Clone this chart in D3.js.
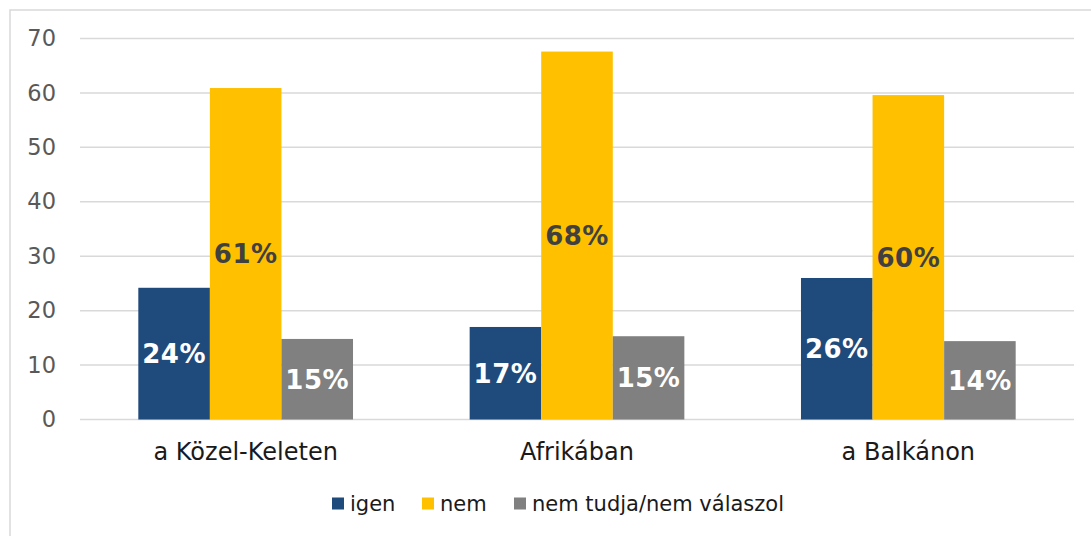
<!DOCTYPE html>
<html>
<head>
<meta charset="utf-8">
<script src="https://cdn.jsdelivr.net/npm/d3@7"></script>
<style>
  body { margin: 0; background: #fff; }
  text { font-family: "DejaVu Sans", Verdana, sans-serif; }
</style>
</head>
<body>
<div id="chart-area"></div>
<script>
// data
var categories = ["a Közel-Keleten", "Afrikában", "a Balkánon"];
var seriesNames = ["igen", "nem", "nem tudja/nem válaszol"];
var igen = [24.2, 17.0, 26.0];
var nem = [60.9, 67.6, 59.6];
var nemTudja = [14.8, 15.3, 14.4];
var yTicks = [0, 10, 20, 30, 40, 50, 60, 70];

var colors = ["#1F4A7C", "#FFC000", "#808080"];
var labelColors = ["#ffffff", "#404040", "#ffffff"];

var W = 1091, H = 536;
var margin = {left: 80, top: 38.5, right: 17, bottom: 116.5};
var width = W - margin.left - margin.right,
    height = H - margin.top - margin.bottom;

var svg = d3.select("#chart-area")
    .append("svg")
        .attr("width", W)
        .attr("height", H);

// chart frame (only top and left edges are visible in the crop)
svg.append("path")
    .attr("d", "M10," + H + "V10H" + W)
    .attr("fill", "none")
    .attr("stroke", "#d9d9d9")
    .attr("stroke-width", 1.5);

var g = svg.append("g")
    .attr("transform", "translate(" + margin.left + ", " + margin.top + ")");

// one equal slot per category
var x0 = d3.scaleBand()
    .domain(categories)
    .range([0, width]);
var step = x0.step();
var groupW = step * 0.648;

var x1 = d3.scaleBand()
    .domain(d3.range(seriesNames.length))
    .range([(step - groupW) / 2, (step + groupW) / 2]);

var y = d3.scaleLinear()
    .domain([0, 70])
    .range([height, 0]);

// gridlines
g.append("g")
    .selectAll("line")
    .data(yTicks)
    .enter()
    .append("line")
        .attr("x1", 0)
        .attr("x2", width)
        .attr("y1", d => y(d))
        .attr("y2", d => y(d))
        .attr("stroke", "#d9d9d9")
        .attr("stroke-width", 1.5);

// y axis labels
var yAxis = d3.axisLeft(y)
    .tickValues(yTicks)
    .tickSize(0)
    .tickPadding(24);
var yAxisGroup = g.append("g").call(yAxis);
yAxisGroup.select(".domain").remove();
yAxisGroup.selectAll("text")
    .attr("font-size", 22.5)
    .attr("font-family", "DejaVu Sans, sans-serif")
    .attr("fill", "#595959");

// x axis labels
var xAxis = d3.axisBottom(x0)
    .tickSize(0)
    .tickPadding(23);
var xAxisGroup = g.append("g")
    .attr("transform", "translate(0, " + height + ")")
    .call(xAxis);
xAxisGroup.select(".domain").remove();
xAxisGroup.selectAll("text")
    .attr("font-size", 24)
    .attr("font-family", "DejaVu Sans, sans-serif")
    .attr("fill", "#1a1a1a");

var rows = categories.map((c, i) => ({
    cat: c,
    vals: [igen[i], nem[i], nemTudja[i]]
}));

var groups = g.selectAll(".grp")
    .data(rows)
    .enter()
    .append("g")
        .attr("class", "grp")
        .attr("transform", d => "translate(" + x0(d.cat) + ",0)");

groups.selectAll("rect")
    .data(d => d.vals)
    .enter()
    .append("rect")
        .attr("x", (d, i) => x1(i))
        .attr("y", d => y(d))
        .attr("width", x1.bandwidth())
        .attr("height", d => height - y(d))
        .attr("fill", (d, i) => colors[i]);

groups.selectAll(".lbl")
    .data(d => d.vals)
    .enter()
    .append("text")
        .attr("class", "lbl")
        .attr("x", (d, i) => x1(i) + x1.bandwidth() / 2)
        .attr("y", d => (y(d) + height) / 2)
        .attr("dy", "0.36em")
        .attr("text-anchor", "middle")
        .attr("font-size", 26)
        .attr("font-weight", "bold")
        .attr("letter-spacing", 0.5)
        .attr("fill", (d, i) => labelColors[i])
        .text(d => Math.round(d) + "%");

// legend
var legend = svg.append("g")
    .attr("transform", "translate(0, 503.5)");
var lx = 332;
var legendGap = [90, 92, 0];
seriesNames.forEach((name, i) => {
    var item = legend.append("g").attr("transform", "translate(" + lx + ",0)");
    item.append("rect")
        .attr("x", 0)
        .attr("y", -6)
        .attr("width", 12)
        .attr("height", 12)
        .attr("fill", colors[i]);
    item.append("text")
        .attr("x", 18)
        .attr("y", 0)
        .attr("dy", "0.35em")
        .attr("font-size", 21)
        .attr("fill", "#1a1a1a")
        .text(name);
    lx += legendGap[i];
});
</script>
</body>
</html>
